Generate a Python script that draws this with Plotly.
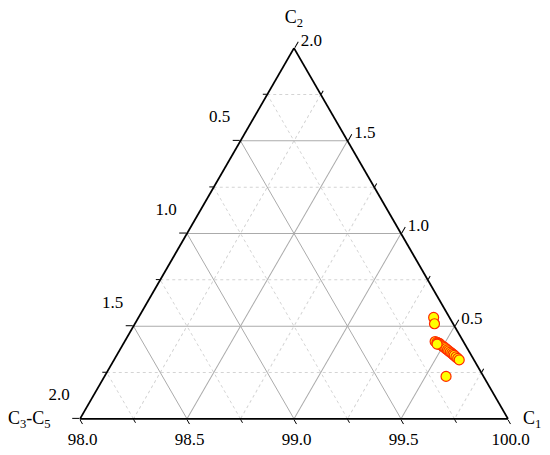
import plotly.graph_objects as go

# Data (mol %)
c2 = [0.547, 0.513, 0.417, 0.412, 0.410, 0.407, 0.404, 0.400, 0.395, 0.390, 0.384, 0.378,
      0.372, 0.366, 0.360, 0.354, 0.348, 0.342, 0.334, 0.326, 0.318, 0.229, 0.403]
c3c5 = [0.074, 0.087, 0.132, 0.126, 0.122, 0.117, 0.124, 0.116, 0.112, 0.108, 0.104, 0.101,
        0.097, 0.094, 0.090, 0.086, 0.083, 0.080, 0.076, 0.072, 0.069, 0.175, 0.130]
c1 = [99.379, 99.400, 99.451, 99.462, 99.468, 99.476, 99.472, 99.484, 99.493, 99.502, 99.512,
      99.521, 99.531, 99.540, 99.550, 99.560, 99.569, 99.578, 99.590, 99.602, 99.613, 99.596, 99.467]

# Tick definitions
a_major = [0, 0.5, 1.0, 1.5]
a_text = ["2.0", "1.5", "1.0", "0.5"]
b_major = [0, 0.5, 1.0, 1.5, 2.0]
b_text = ["100.0", "99.5", "99.0", "98.5", "98.0"]
c_major = [98.0, 98.5, 99.0, 99.5]
c_text = ["2.0", "1.5", "1.0", "0.5"]
a_minor = [0.25, 0.75, 1.25, 1.75]
b_minor = [0.25, 0.75, 1.25, 1.75]
c_minor = [98.25, 98.75, 99.25, 99.75]

FONT = "Liberation Serif"
LIFT = "<br>\u00a0<br>\u00a0"   # lifts left-edge labels above their ticks

fig = go.Figure()
# invisible trace so that the minor-grid ternary layer gets drawn
fig.add_trace(go.Scatterternary(
    a=c2[:1], b=c3c5[:1], c=c1[:1], mode="markers", subplot="ternary",
    marker=dict(size=1, opacity=0), showlegend=False, hoverinfo="skip"))
fig.add_trace(go.Scatterternary(
    a=c2, b=c3c5, c=c1, mode="markers", subplot="ternary2",
    marker=dict(size=10, color="#FFFF00", line=dict(color="#FF2A00", width=1.2)),
    showlegend=False, hoverinfo="skip"))

def minor_axis(vals):
    return dict(tickmode="array", tickvals=vals, showticklabels=False,
                ticks="outside", ticklen=4, tickcolor="black", tickwidth=1.2,
                showline=False, showgrid=True, gridcolor="#d4d4d4", gridwidth=1,
                griddash="dot", title=dict(text=""))

def major_axis(vals, text, title, mn, tl=7):
    return dict(tickmode="array", tickvals=vals, ticktext=text, min=mn,
                ticks="outside", ticklen=tl, tickcolor="black", tickwidth=1.3,
                tickfont=dict(family=FONT, size=17, color="black"),
                showline=True, linecolor="black", linewidth=1.8,
                showgrid=True, gridcolor="#ababab", gridwidth=1,
                title=dict(text=title, font=dict(family=FONT, size=18, color="black")))

dom = dict(x=[0, 1], y=[0, 1])
fig.update_layout(
    width=550, height=455,
    margin=dict(l=72, r=50, t=40, b=44),
    paper_bgcolor="white",
    ternary=dict(sum=100, domain=dom, bgcolor="white",
                 aaxis=dict(min=0, **minor_axis(a_minor)),
                 baxis=dict(min=0, **minor_axis(b_minor)),
                 caxis=dict(min=98, **minor_axis(c_minor))),
    ternary2=dict(sum=100, domain=dom, bgcolor="rgba(0,0,0,0)",
                  aaxis=major_axis(a_major, [t + LIFT for t in a_text], "C<sub>2</sub>", 0),
                  baxis=major_axis(b_major, b_text, "", 0, tl=5),
                  caxis=major_axis(c_major, c_text, "", 98)),
    font=dict(family=FONT, color="black"),
    annotations=[
        dict(text="C<sub>3</sub>-C<sub>5</sub>", xref="paper", yref="paper",
             x=-0.117, y=0.0, showarrow=False, xanchor="center", yanchor="middle",
             font=dict(family=FONT, size=18, color="black")),
        dict(text="C<sub>1</sub>", xref="paper", yref="paper",
             x=1.056, y=0.0, showarrow=False, xanchor="center", yanchor="middle",
             font=dict(family=FONT, size=18, color="black")),
    ],
)

fig.write_html("out.html")
